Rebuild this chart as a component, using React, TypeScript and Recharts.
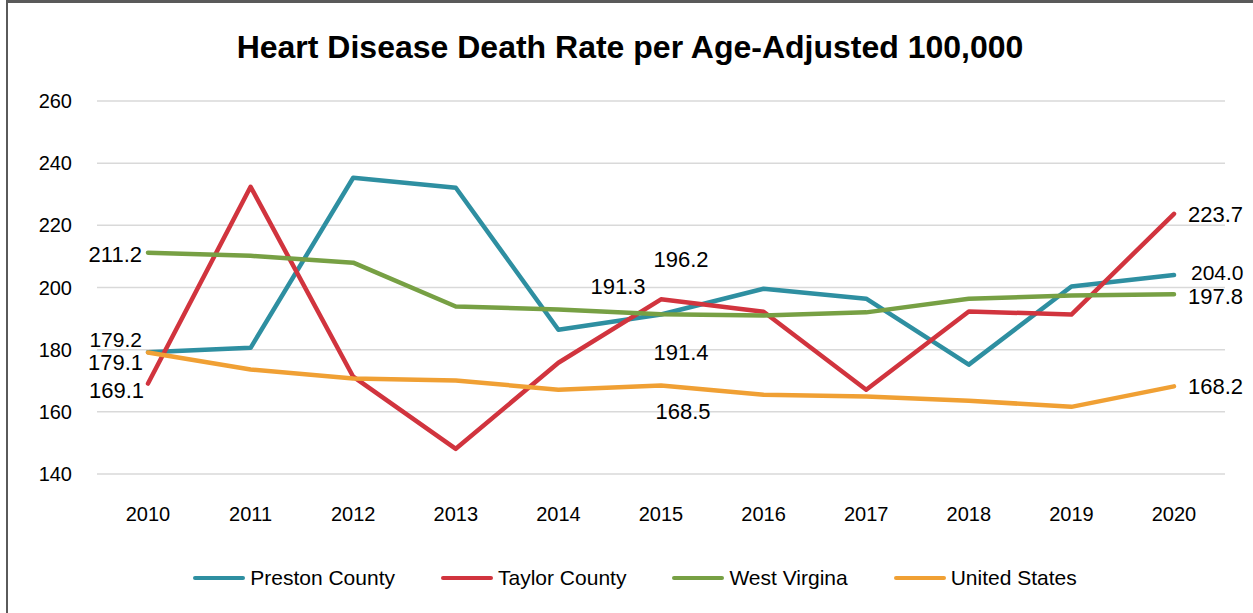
import { CartesianGrid, LabelList, Line, LineChart, XAxis, YAxis } from "recharts"

const years = ["2010", "2011", "2012", "2013", "2014", "2015", "2016", "2017", "2018", "2019", "2020"]
const preston = [179.2, 180.6, 235.3, 232.1, 186.4, 191.3, 199.6, 196.4, 175.2, 200.3, 204.0]
const taylor = [169.1, 232.4, 171.3, 148.1, 175.8, 196.2, 192.2, 167.1, 192.3, 191.3, 223.7]
const westVirginia = [211.2, 210.2, 208.0, 193.9, 192.9, 191.4, 191.0, 192.0, 196.4, 197.4, 197.8]
const unitedStates = [179.1, 173.6, 170.7, 170.1, 167.1, 168.5, 165.5, 164.9, 163.6, 161.6, 168.2]
const yTicks = [140, 160, 180, 200, 220, 240, 260]

const data = years.map((year, i) => ({
  year,
  preston: preston[i],
  taylor: taylor[i],
  wv: westVirginia[i],
  us: unitedStates[i],
}))

type Place = { dx: number; dy: number; anchor: "start" | "middle" | "end"; size?: number }

// where each shown value label sits, keyed by point index
const labelSpots: Record<string, Record<number, Place>> = {
  preston: {
    0: { dx: -6, dy: -13, anchor: "end", size: 21 },
    5: { dx: -43, dy: -28, anchor: "middle" },
    10: { dx: 17, dy: -3, anchor: "start", size: 21 },
  },
  taylor: {
    0: { dx: -4, dy: 7, anchor: "end" },
    5: { dx: 20, dy: -40, anchor: "middle" },
    10: { dx: 14, dy: 1, anchor: "start" },
  },
  wv: {
    0: { dx: -6, dy: 2, anchor: "end" },
    5: { dx: 20, dy: 38, anchor: "middle" },
    10: { dx: 14, dy: 2, anchor: "start" },
  },
  us: {
    0: { dx: -5, dy: 10, anchor: "end" },
    5: { dx: 22, dy: 26, anchor: "middle" },
    10: { dx: 14, dy: 0, anchor: "start" },
  },
}

const series = [
  { key: "preston", name: "Preston County", color: "#2E8FA1" },
  { key: "taylor", name: "Taylor County", color: "#D1343E" },
  { key: "wv", name: "West Virgina", color: "#77A044" },
  { key: "us", name: "United States", color: "#F0A034" },
]

const font = "'Liberation Sans', Arial, sans-serif"

function makeLabel(key: string) {
  return (props: any) => {
    const { x, y, value, index } = props
    const p = labelSpots[key][index]
    if (!p) return null
    return (
      <text
        x={Number(x) + p.dx}
        y={Number(y) + p.dy}
        textAnchor={p.anchor}
        dominantBaseline="central"
        fontSize={p.size ?? 22}
        fontFamily={font}
        fill="#000"
      >
        {Number(value).toFixed(1)}
      </text>
    )
  }
}

export default function App() {
  return (
    <div
      style={{
        position: "absolute",
        left: 0,
        top: 0,
        width: 1253,
        height: 613,
        background: "#fff",
        overflow: "hidden",
        fontFamily: font,
      }}
    >
      <div
        style={{
          position: "absolute",
          left: 6,
          top: 0,
          width: 1247,
          height: 613,
          borderLeft: "2px solid #5a5a5a",
          borderTop: "3px solid #5a5a5a",
          boxSizing: "border-box",
        }}
      />
      <div
        style={{
          position: "absolute",
          left: 0,
          top: 29,
          width: 1260,
          textAlign: "center",
          fontSize: 32,
          lineHeight: "36px",
          fontWeight: "bold",
          color: "#000",
        }}
      >
        Heart Disease Death Rate per Age-Adjusted 100,000
      </div>
      <div style={{ position: "absolute", left: 0, top: 0 }}>
        <LineChart width={1253} height={613} data={data} margin={{ top: 101, right: 28, bottom: 99, left: 20 }}>
          <CartesianGrid vertical={false} stroke="#d9d9d9" strokeWidth={1.5} />
          <XAxis
            dataKey="year"
            axisLine={false}
            tickLine={false}
            height={40}
            tickMargin={27}
            padding={{ left: 51, right: 51 }}
            tick={{ fontSize: 20, fill: "#000", fontFamily: font }}
          />
          <YAxis
            domain={[140, 260]}
            ticks={yTicks}
            axisLine={false}
            tickLine={false}
            width={77}
            tickMargin={19}
            tick={{ fontSize: 20, fill: "#000", fontFamily: font }}
          />
          {series.map((s) => (
            <Line
              key={s.key}
              dataKey={s.key}
              name={s.name}
              stroke={s.color}
              strokeWidth={4.5}
              strokeLinecap="round"
              strokeLinejoin="round"
              dot={false}
              activeDot={false}
              isAnimationActive={false}
            >
              <LabelList dataKey={s.key} content={makeLabel(s.key)} />
            </Line>
          ))}
        </LineChart>
      </div>
      <div
        style={{
          position: "absolute",
          left: 0,
          top: 564,
          width: 1270,
          display: "flex",
          justifyContent: "center",
          gap: 46,
          fontSize: 21,
          lineHeight: "28px",
          color: "#000",
        }}
      >
        {series.map((s) => (
          <div key={s.key} style={{ display: "flex", alignItems: "center" }}>
            <div style={{ width: 52, height: 4, borderRadius: 2, background: s.color, marginRight: 5 }} />
            <span>{s.name}</span>
          </div>
        ))}
      </div>
    </div>
  )
}
